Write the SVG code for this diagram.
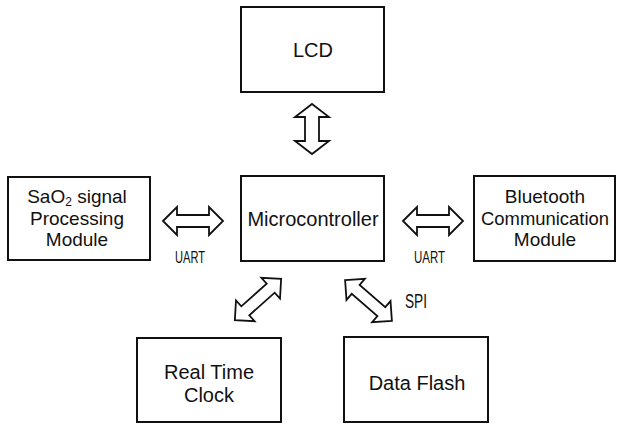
<svg xmlns="http://www.w3.org/2000/svg" width="617" height="425" viewBox="0 0 617 425">
  <style>
    .box { fill: #ffffff; stroke: #111111; stroke-width: 2; }
    .lbl { font-family: "Liberation Sans", Arial, sans-serif; font-size: 20px; fill: #111111; text-anchor: middle; }
    .ml { font-size: 19px; }
    .bus { font-family: "Liberation Sans", Arial, sans-serif; fill: #111111; }
    .arr { fill: #ffffff; stroke: #111111; stroke-width: 1.8; stroke-linejoin: miter; }
  </style>
  <defs>
    <path id="darrow" d="M-31 0 L-17 -14 L-17 -6 L17 -6 L17 -14 L31 0 L17 14 L17 6 L-17 6 L-17 14 Z"/>
  </defs>
  <rect width="617" height="425" fill="#ffffff"/>

  <g id="lcd">
    <rect class="box" x="241" y="7" width="143" height="85"/>
    <text class="lbl" x="313" y="57">LCD</text>
  </g>

  <g id="microcontroller">
    <rect class="box" x="241" y="176" width="143" height="85"/>
    <text class="lbl" x="313" y="226">Microcontroller</text>
  </g>

  <g id="sao2">
    <rect class="box" x="8" y="177" width="142" height="83"/>
    <text class="lbl ml" x="77" y="203">SaO<tspan font-size="12" dy="3">2</tspan><tspan dy="-3"> signal</tspan></text>
    <text class="lbl ml" x="77" y="225">Processing</text>
    <text class="lbl ml" x="77" y="246">Module</text>
  </g>

  <g id="bluetooth">
    <rect class="box" x="474" y="176" width="141" height="85"/>
    <text class="lbl ml" x="545" y="203">Bluetooth</text>
    <text class="lbl ml" x="545" y="225" textLength="128" lengthAdjust="spacingAndGlyphs">Communication</text>
    <text class="lbl ml" x="545" y="246">Module</text>
  </g>

  <g id="rtc">
    <rect class="box" x="137" y="338" width="144" height="84"/>
    <text class="lbl" x="209" y="379">Real Time</text>
    <text class="lbl" x="209" y="402">Clock</text>
  </g>

  <g id="dataflash">
    <rect class="box" x="344" y="337" width="144" height="85"/>
    <text class="lbl" x="417" y="390">Data Flash</text>
  </g>

  <g id="connectors">
    <path class="arr" d="M312 104 L329 117 L319 117 L319 141 L329 141 L312 154 L295 141 L305 141 L305 117 L295 117 Z"/>
    <path class="arr" d="M163 221 L177 207 L177 215 L209 215 L209 207 L223 221 L209 235 L209 227 L177 227 L177 235 Z"/>
    <path class="arr" d="M403 221 L417 207 L417 215 L449 215 L449 207 L463 221 L449 235 L449 227 L417 227 L417 235 Z"/>
    <use href="#darrow" class="arr" transform="translate(258 299.5) rotate(-41.7)"/>
    <use href="#darrow" class="arr" transform="translate(368.5 300.5) rotate(41)"/>
    <text class="bus" x="175" y="263" font-size="16" textLength="30" lengthAdjust="spacingAndGlyphs">UART</text>
    <text class="bus" x="414" y="263" font-size="16" textLength="31" lengthAdjust="spacingAndGlyphs">UART</text>
    <text class="bus" x="405" y="308" font-size="20" textLength="22" lengthAdjust="spacingAndGlyphs">SPI</text>
  </g>
</svg>
